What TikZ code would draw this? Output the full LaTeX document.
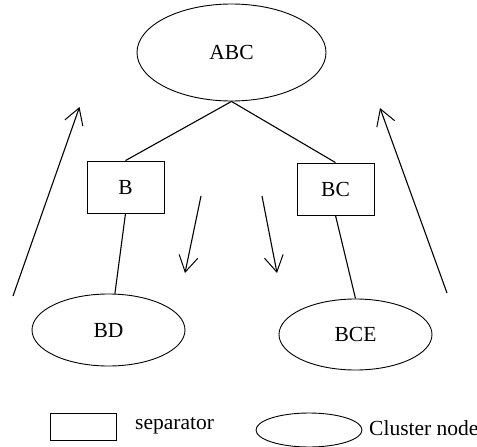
\documentclass[tikz,border=0pt]{standalone}
\usepackage{fontspec}
\setmainfont{Liberation Serif}
\usetikzlibrary{shapes.geometric}
\usetikzlibrary{arrows.meta}

\tikzset{
    cluster/.style={draw, ellipse, line width=0.9pt, inner sep=0pt},
    sepbox/.style={draw, rectangle, line width=0.9pt, inner sep=0pt},
    edge/.style={line width=1.1pt},
    flow/.style={line width=1.1pt, -{Straight Barb[length=16pt,width=19pt,line width=1pt]}},
}

\begin{document}
\begin{tikzpicture}[x=1pt, y=-1pt, font=\fontsize{21.5}{25}\selectfont]
    \useasboundingbox (0,0) rectangle (477,447);
    % 团节点与分隔节点
    \node[cluster, minimum width=189pt, minimum height=97pt] (abc) at (231.5,52.5) {ABC};
    \node[sepbox, minimum width=77pt, minimum height=52pt] (b) at (125.5,187) {B};
    \node[sepbox, minimum width=77pt, minimum height=52pt] (bc) at (335.5,189) {BC};
    \node[cluster, minimum width=153pt, minimum height=72pt] (bd) at (108.5,330) {BD};
    \node[cluster, minimum width=153pt, minimum height=71pt] (bce) at (355.5,334.5) {BCE};
    % 连线
    \draw[edge] (abc.south) -- (b.north);
    \draw[edge] (abc.south) -- (bc.north);
    \draw[edge] (b.south) -- (bd.80);
    \draw[edge] (bc.south) -- (bce.north);
    % 消息传递方向
    \coordinate (up1) at (13,296);   \coordinate (up1e) at (79.5,107);
    \coordinate (up2) at (447,293);  \coordinate (up2e) at (380,108);
    \coordinate (dn1) at (201,196);  \coordinate (dn1e) at (185,273);
    \coordinate (dn2) at (262,196);  \coordinate (dn2e) at (277,273);
    \draw[flow] (up1) -- (up1e);
    \draw[flow] (up2) -- (up2e);
    \draw[flow] (dn1) -- (dn1e);
    \draw[flow] (dn2) -- (dn2e);
    % 图例
    \node[sepbox, minimum width=66pt, minimum height=27pt] (legbox) at (83,426.5) {};
    \node[anchor=west, inner sep=0pt] (legboxtext) at (135,426) {separator};
    \node[cluster, minimum width=106pt, minimum height=34pt] (legell) at (309,430) {};
    \node[anchor=west, inner sep=0pt] (legelltext) at (369,428) {Cluster node};
\end{tikzpicture}
\end{document}
